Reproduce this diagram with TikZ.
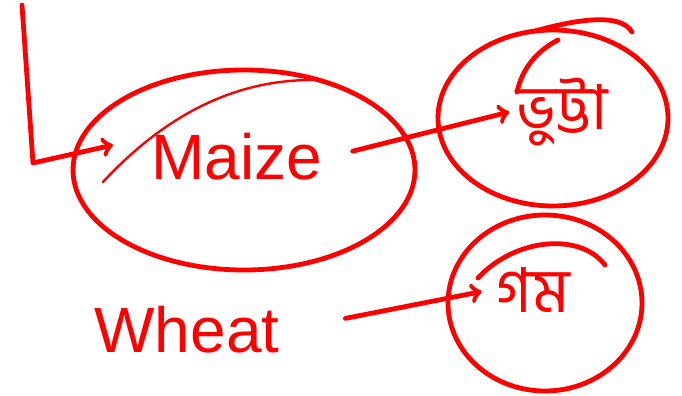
\documentclass[tikz,border=0pt]{standalone}
\usepackage{fontspec}
\setmainfont{Liberation Sans}
\newfontfamily\bengali[Script=Bengali]{Hind Siliguri}
\usetikzlibrary{shapes.geometric}
\definecolor{marker}{RGB}{255,0,0}

\begin{document}
\begin{tikzpicture}[x=0.5pt,y=-0.5pt,
  redline/.style={marker, line width=2.4pt, line cap=round, line join=round},
  blob/.style={redline, draw, ellipse, inner sep=0pt},
  word/.style={marker, font=\fontsize{32}{34}\selectfont},
  bword/.style={marker, font=\bengali\fontsize{31}{33}\selectfont}]
\useasboundingbox (0,0) rectangle (682,396);

\node [blob, minimum width=171pt, minimum height=100pt] (maize) at (244,170) {};
\node [blob, minimum width=115pt, minimum height=88pt] (bhuttablob) at (553,118) {};
\node [blob, minimum width=97pt, minimum height=88pt] (gomblob) at (545,303) {};

\node [word] (maizetext) at (237,157) {Maize};
\node [word] (wheat) at (187,330) {Wheat};
\node [bword] (bhutta) at (562,112) {ভুট্টা};
\node [bword] (gom) at (533,290) {গম};

\coordinate (top) at (22,5);
\coordinate (corner) at (33,163);
\coordinate (tip) at (113,145);

\draw [->, redline] (top) -- (corner) -- (tip);
\draw [->, redline, shorten <=12pt] (maizetext.east) -- (bhutta.west);
\draw [->, redline, shorten <=30pt, shorten >=4pt] (wheat.east) -- (gom.west);

\draw [redline, line width=1.2pt] (103,182) .. controls (170,110) and (240,80) .. (312,80);
\draw [redline] (517,92) .. controls (522,70) and (535,52) .. (558,40);
\draw [redline] (535,31) .. controls (575,20) and (620,12) .. (632,32);
\draw [redline] (478,278) .. controls (515,238) and (580,232) .. (605,265);

\end{tikzpicture}
\end{document}
